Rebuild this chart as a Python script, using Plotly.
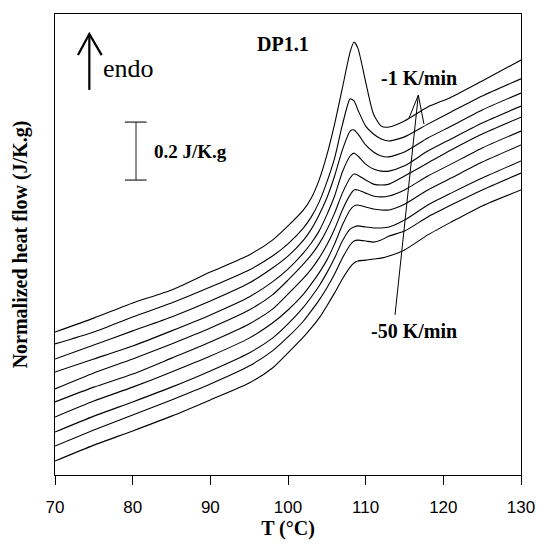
import plotly.graph_objects as go

# Temperature grid (°C)
T = [70, 75, 80, 85, 90, 95, 98, 100, 102, 103, 104, 105, 106, 107, 108, 108.5,
     109, 110, 111, 112, 113, 115, 118, 121, 125, 130]

# Normalized heat flow (J/K.g), curves stacked with vertical offsets
hf_1 = [0.493, 0.541, 0.593, 0.638, 0.700, 0.759, 0.810, 0.859, 0.914, 0.955, 1.017, 1.103, 1.210,
        1.334, 1.459, 1.493, 1.472, 1.355, 1.245, 1.203, 1.200, 1.221, 1.269, 1.303, 1.359, 1.431]
hf_2 = [0.452, 0.493, 0.545, 0.593, 0.648, 0.707, 0.755, 0.797, 0.852, 0.890, 0.941, 1.010, 1.093,
        1.207, 1.297, 1.290, 1.259, 1.203, 1.176, 1.159, 1.152, 1.166, 1.210, 1.252, 1.307, 1.366]
hf_3 = [0.400, 0.448, 0.497, 0.545, 0.600, 0.662, 0.714, 0.755, 0.810, 0.848, 0.897, 0.955, 1.031,
        1.121, 1.186, 1.190, 1.176, 1.138, 1.114, 1.100, 1.097, 1.114, 1.162, 1.203, 1.259, 1.317]
hf_4 = [0.355, 0.400, 0.445, 0.497, 0.552, 0.614, 0.666, 0.710, 0.766, 0.800, 0.841, 0.897, 0.962,
        1.045, 1.100, 1.110, 1.100, 1.072, 1.055, 1.048, 1.048, 1.066, 1.117, 1.159, 1.214, 1.272]
hf_5 = [0.297, 0.352, 0.400, 0.452, 0.507, 0.569, 0.621, 0.672, 0.728, 0.759, 0.797, 0.845, 0.903,
        0.972, 1.024, 1.038, 1.034, 1.017, 1.003, 1.000, 1.003, 1.031, 1.076, 1.121, 1.176, 1.234]
hf_6 = [0.252, 0.303, 0.348, 0.403, 0.459, 0.521, 0.572, 0.624, 0.679, 0.710, 0.748, 0.793, 0.848,
        0.914, 0.966, 0.983, 0.983, 0.972, 0.962, 0.959, 0.962, 0.983, 1.031, 1.072, 1.128, 1.186]
hf_7 = [0.200, 0.255, 0.303, 0.355, 0.410, 0.472, 0.524, 0.569, 0.624, 0.659, 0.697, 0.741, 0.797,
        0.862, 0.914, 0.928, 0.931, 0.924, 0.917, 0.914, 0.914, 0.934, 0.983, 1.024, 1.079, 1.138]
hf_8 = [0.148, 0.203, 0.252, 0.303, 0.359, 0.421, 0.472, 0.521, 0.579, 0.614, 0.652, 0.697, 0.748,
        0.807, 0.848, 0.855, 0.859, 0.855, 0.852, 0.852, 0.855, 0.879, 0.931, 0.972, 1.024, 1.083]
hf_9 = [0.100, 0.155, 0.207, 0.259, 0.314, 0.376, 0.428, 0.476, 0.531, 0.566, 0.603, 0.645, 0.693,
        0.748, 0.793, 0.807, 0.810, 0.807, 0.803, 0.810, 0.824, 0.841, 0.890, 0.931, 0.983, 1.041]
hf_10 = [0.048, 0.103, 0.152, 0.203, 0.259, 0.317, 0.369, 0.421, 0.476, 0.507, 0.541, 0.583, 0.628,
         0.676, 0.717, 0.731, 0.738, 0.741, 0.745, 0.748, 0.755, 0.776, 0.828, 0.872, 0.928, 0.983]

curves = [hf_1, hf_2, hf_3, hf_4, hf_5, hf_6, hf_7, hf_8, hf_9, hf_10]
curve_names = ["-1 K/min", "curve 2", "curve 3", "curve 4", "curve 5",
               "curve 6", "curve 7", "curve 8", "curve 9", "-50 K/min"]

x_ticks = [70, 80, 90, 100, 110, 120, 130]
scale_bar = 0.2  # J/K.g

SERIF = "Liberation Serif, Times New Roman, serif"
SANS = "Liberation Sans, Arial, sans-serif"

fig = go.Figure()
for name, y in zip(curve_names, curves):
    fig.add_trace(go.Scatter(x=T, y=y, mode="lines", name=name,
                             line=dict(color="black", width=1.1, shape="spline", smoothing=0.6)))

shapes = []
# endo arrow
shapes.append(dict(type="line", x0=74.42, x1=74.42, y0=1.328, y1=1.521,
                   xref="x", yref="y", line=dict(color="black", width=2.2)))
shapes.append(dict(type="path", path="M 72.96 1.448 L 74.42 1.521 L 76.01 1.448",
                   xref="x", yref="y", line=dict(color="black", width=2.2)))
# scale bar
sb_x, sb_y0 = 80.43, 1.017
shapes.append(dict(type="line", x0=sb_x, x1=sb_x, y0=sb_y0, y1=sb_y0 + scale_bar,
                   xref="x", yref="y", line=dict(color="#444", width=1.2)))
for yy in (sb_y0, sb_y0 + scale_bar):
    shapes.append(dict(type="line", x0=79.0, x1=81.8, y0=yy, y1=yy,
                       xref="x", yref="y", line=dict(color="#222", width=1.2)))
# rate arrow
shapes.append(dict(type="line", x0=113.78, y0=0.552, x1=116.78, y1=1.310,
                   xref="x", yref="y", line=dict(color="black", width=1)))
shapes.append(dict(type="path", path="M 115.58 1.231 L 116.78 1.310 L 117.51 1.210",
                   xref="x", yref="y", line=dict(color="black", width=1)))

annotations = [
    dict(x=75.9, y=1.403, text="endo", xanchor="left", yanchor="middle", showarrow=False,
         font=dict(family=SERIF, size=26, color="black")),
    dict(x=82.55, y=1.1155, text="<b>0.2 J/K.g</b>", xanchor="left", yanchor="middle",
         showarrow=False, font=dict(family=SERIF, size=19, color="black")),
    dict(x=99.3, y=1.486, text="<b>DP1.1</b>", xanchor="center", yanchor="middle",
         showarrow=False, font=dict(family=SERIF, size=20, color="black")),
    dict(x=116.9, y=1.369, text="<b>-1 K/min</b>", xanchor="center", yanchor="middle",
         showarrow=False, font=dict(family=SERIF, size=20, color="black")),
    dict(x=116.2, y=0.497, text="<b>-50 K/min</b>", xanchor="center", yanchor="middle",
         showarrow=False, font=dict(family=SERIF, size=20, color="black")),
]

fig.update_layout(
    width=537, height=547,
    margin=dict(l=55, r=16, t=14, b=72),
    paper_bgcolor="white", plot_bgcolor="white",
    showlegend=False,
    shapes=shapes, annotations=annotations,
    xaxis=dict(range=[70, 130], tickvals=x_ticks, ticktext=[str(v) for v in x_ticks],
               ticks="outside", ticklen=9, tickwidth=1.2, tickcolor="black",
               ticklabelstandoff=7, ticklabeloverflow="allow",
               showline=True, linecolor="black", linewidth=1.3, mirror=True,
               showgrid=False, zeroline=False, automargin=False,
               tickfont=dict(family=SANS, size=17, color="black"),
               title=dict(text="<b>T (°C)</b>", standoff=3,
                          font=dict(family=SERIF, size=20, color="black"))),
    yaxis=dict(range=[0, 1.5897], showticklabels=False, ticks="",
               showline=True, linecolor="black", linewidth=1.3, mirror=True,
               showgrid=False, zeroline=False, automargin=False,
               title=dict(text="<b>Normalized heat flow (J/K.g)</b>", standoff=20,
                          font=dict(family=SERIF, size=20, color="black"))),
)

# remove the default page margin so the figure fills the window exactly
fig.write_html("out.html", config={"displayModeBar": False},
               post_script="document.body.style.margin='0';document.body.style.overflow='hidden';")
